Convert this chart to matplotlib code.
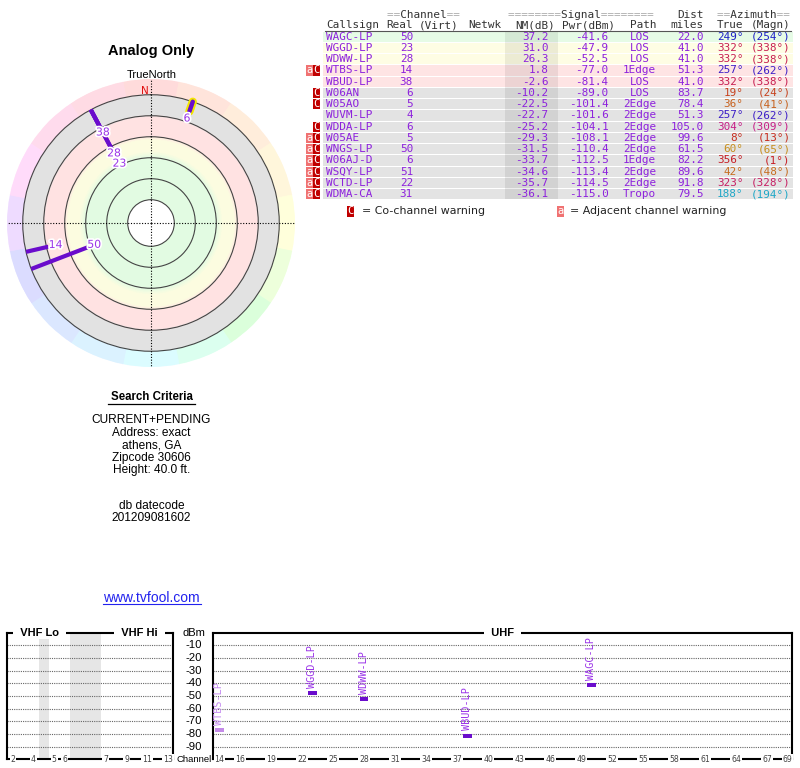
import colorsys
import numpy as np
import matplotlib
matplotlib.use("Agg")
import matplotlib.pyplot as plt
from matplotlib.colors import LinearSegmentedColormap
from matplotlib.patches import Rectangle
from matplotlib import patheffects as pe
from matplotlib.transforms import blended_transform_factory

# ---- station list ----
CALLSIGN = ["WAGC-LP", "WGGD-LP", "WDWW-LP", "WTBS-LP", "WBUD-LP", "W06AN", "W05AO",
            "WUVM-LP", "WDDA-LP", "W05AE", "WNGS-LP", "W06AJ-D", "WSQY-LP", "WCTD-LP", "WDMA-CA"]
REAL_CH = [50, 23, 28, 14, 38, 6, 5, 4, 6, 5, 50, 6, 51, 22, 31]
NM_DB = [37.2, 31.0, 26.3, 1.8, -2.6, -10.2, -22.5, -22.7, -25.2, -29.3, -31.5, -33.7, -34.6, -35.7, -36.1]
PWR_DBM = [-41.6, -47.9, -52.5, -77.0, -81.4, -89.0, -101.4, -101.6, -104.1, -108.1, -110.4,
           -112.5, -113.4, -114.5, -115.0]
PATH = ["LOS", "LOS", "LOS", "1Edge", "LOS", "LOS", "2Edge", "2Edge", "2Edge", "2Edge", "2Edge",
        "1Edge", "2Edge", "2Edge", "Tropo"]
DIST_MI = [22.0, 41.0, 41.0, 51.3, 41.0, 83.7, 78.4, 51.3, 105.0, 99.6, 61.5, 82.2, 89.6, 91.8, 79.5]
AZ_TRUE = [249, 332, 332, 257, 332, 19, 36, 257, 304, 8, 60, 356, 42, 323, 188]
AZ_MAGN = [254, 338, 338, 262, 338, 24, 41, 262, 309, 13, 65, 1, 48, 328, 194]
WARN = ["", "", "", "aC", "", "C", "C", "", "C", "aC", "aC", "aC", "aC", "aC", "aC"]

RING_NM = [80, 60, 40, 20, 0, -20]
DBM_TICKS = [-10, -20, -30, -40, -50, -60, -70, -80, -90]
VHF_TICKS = [2, 4, 5, 6, 7, 9, 11, 13]
UHF_TICKS = [14, 16, 19, 22, 25, 28, 31, 34, 37, 40, 43, 46, 49, 52, 55, 58, 61, 64, 67, 69]
CRITERIA = ["CURRENT+PENDING", "Address: exact", "athens, GA", "Zipcode 30606", "Height: 40.0 ft."]
DATECODE = ["db datecode", "201209081602"]

# VHF slots: channel order with gaps (None) for the 72-76 MHz and FM/air gaps
VHF_ORDER = [2, 3, 4, None, 5, 6, None, None, None, 7, 8, 9, 10, 11, 12, 13]

PURPLE = "#6a0ccc"
TXT_PURPLE = "#8d21dd"
LBL_PURPLE = "#9a33e8"
MONO = "DejaVu Sans Mono"
SANS = "Liberation Sans"


def az_hue(az):
    return np.interp(az, [0, 90, 135, 180, 250, 300, 360], [0, 60, 120, 185, 240, 320, 360]) / 360.0


def az_dark(az):
    return colorsys.hsv_to_rgb(az_hue(az), 0.85, 0.78)


def az_pastel(az):
    return colorsys.hsv_to_rgb(az_hue(az), 0.14, 1.0)


def vhf_x(ch):
    return VHF_ORDER.index(ch) + 0.6


fig = plt.figure(figsize=(8, 7.68), dpi=100)

# ---- overlay in pixel coords for the table and the loose text ----
ov = fig.add_axes([0, 0, 1, 1])
ov.set_xlim(0, 800); ov.set_ylim(768, 0); ov.axis("off"); ov.set_zorder(10)

ov.text(151, 51, "Analog Only", family=SANS, weight="bold", fontsize=10.5, ha="center", va="center")
ov.text(151.5, 74.5, "TrueNorth", family=SANS, fontsize=8, ha="center", va="center")
ov.text(144.5, 91, "N", family="DejaVu Sans", fontsize=7.5, color="#e01010", ha="center", va="center")

# table header
hdr = dict(family=MONO, fontsize=7.9, va="center")
for x, s, word in [(387, "==       ==", "  Channel  "), (508, "========      ========", "        Signal        "),
                   (717, "==       ==", "  Azimuth  ")]:
    ov.text(x, 15, s, color="#aaaaaa", ha="left", **hdr)
    ov.text(x, 15, word, color="#333333", ha="left", **hdr)
ov.text(703.5, 15, "Dist", color="#333333", ha="right", **hdr)
for x, s, ha in [(326, "Callsign", "left"), (413, "Real", "right"), (419, "(Virt)", "left"),
                 (468, "Netwk", "left"), (555, "NM(dB)", "right"), (615, "Pwr(dBm)", "right"),
                 (643, "Path", "center"), (703.5, "miles", "right"), (743.5, "True", "right"),
                 (790.5, "(Magn)", "right")]:
    ov.text(x, 25, s, color="#333333", ha=ha, **hdr)
ov.plot([325, 791], [31, 31], color="#555555", lw=0.8)


def row_bg(nm):
    if nm >= 35:
        return "#e6fbe6"
    if nm >= 15:
        return "#fefde4"
    if nm >= -5:
        return "#fee4e4"
    return "#e3e3e3"


def badge(x0, y0, w, h, ch, fc):
    ov.add_patch(Rectangle((x0, y0), w, h, fc=fc, ec="none"))
    ov.text(x0 + w / 2, y0 + h / 2, ch, color="white", family=MONO, fontsize=7.5, ha="center", va="center")


ROW_H = 11.25
TOP = 31.5
cell = dict(family=MONO, fontsize=7.9, va="center", color=TXT_PURPLE)
for i in range(len(CALLSIGN)):
    y0 = TOP + ROW_H * i
    yc = y0 + 5.1
    ov.add_patch(Rectangle((323, y0), 469.5, ROW_H - 1, fc=row_bg(NM_DB[i]), ec="none"))
    if "C" in WARN[i]:
        badge(313.4, y0, 6.8, ROW_H - 1, "C", "#c00000")
    if "a" in WARN[i]:
        badge(306, y0, 7.2, ROW_H - 1, "a", "#f07272")
    ov.text(326, yc, CALLSIGN[i], ha="left", **cell)
    ov.text(413, yc, str(REAL_CH[i]), ha="right", **cell)
    ov.text(548.5, yc, f"{NM_DB[i]:.1f}", ha="right", **cell)
    ov.text(608.5, yc, f"{PWR_DBM[i]:.1f}", ha="right", **cell)
    ov.text(639.5, yc, PATH[i], ha="center", **cell)
    ov.text(703.5, yc, f"{DIST_MI[i]:.1f}", ha="right", **cell)
    c = az_dark(AZ_TRUE[i])
    ov.text(743.5, yc, f"{AZ_TRUE[i]}°", ha="right", family=MONO, fontsize=7.9, va="center", color=c)
    ov.text(790.5, yc, f"({AZ_MAGN[i]}°)", ha="right", family=MONO, fontsize=7.9, va="center", color=c)
# darker NM(dB) column
ov.add_patch(Rectangle((505, TOP), 53, ROW_H * len(CALLSIGN) - 1, fc="black", alpha=0.07, ec="none"))

# warning legend
badge(347, 205.5, 7, 11, "C", "#c00000")
ov.text(361.5, 211, "= Co-channel warning", family="DejaVu Sans", fontsize=7.9, va="center", color="#222222")
badge(557, 205.5, 6.5, 11, "a", "#f07272")
ov.text(570.5, 211, "= Adjacent channel warning", family="DejaVu Sans", fontsize=7.9, va="center",
        color="#222222")

# search criteria block
ov.text(151.5, 397.3, "Search Criteria", family=SANS, weight="bold", fontsize=8.3, ha="center", va="center")
ov.plot([108.3, 195], [404.3, 404.3], color="black", lw=0.9)
for k, s in enumerate(CRITERIA):
    ov.text(151.5, 420 + 12.5 * k, s, family=SANS, fontsize=8.6, ha="center", va="center")
for k, s in enumerate(DATECODE):
    ov.text(151.5, 506 + 12.3 * k, s, family=SANS, fontsize=8.6, ha="center", va="center")
ov.text(151.8, 598.3, "www.tvfool.com", family=SANS, fontsize=10, ha="center", va="center", color="#2222ee")
ov.plot([102.7, 201], [603.8, 603.8], color="#2222ee", lw=0.8)

# ---- radar plot: radius = -NM, centre hole below NM 80 ----
pax = fig.add_axes([7 / 800, 1 - 367 / 768, 288 / 800, 288 / 768], projection="polar")
pax.set_theta_zero_location("N"); pax.set_theta_direction(-1)
pax.set_ylim(-102.2, 35)
pax.set_facecolor("white")

ZONE_NM = [80, 40, 34, 23, 19, 1.5, -1.5, -20]
ZONE_COL = ["#e2fbe2", "#e2fbe2", "#fcfce0", "#fcfce0", "#ffe2e2", "#ffe2e2", "#e2e2e2", "#e2e2e2"]
zone_cmap = LinearSegmentedColormap.from_list(
    "zones", [((80 - nm) / 100, c) for nm, c in zip(ZONE_NM, ZONE_COL)])
th = np.linspace(0, 2 * np.pi, 721)
rr = np.linspace(-RING_NM[0], -RING_NM[-1], 201)
C = np.tile(0.5 * (rr[:-1] + rr[1:])[:, None], (1, len(th) - 1))
pax.pcolormesh(th, rr, C, cmap=zone_cmap, vmin=-RING_NM[0], vmax=-RING_NM[-1], shading="flat", zorder=1)

az_c = np.arange(0, 360, 22.5)
cols = [az_pastel(a) for a in az_c]
pax.bar(np.radians(az_c), 15, width=np.radians(22.5), bottom=-RING_NM[-1], color=cols, edgecolor=cols,
        lw=0.5, zorder=1)

pax.set_yticks([-n for n in RING_NM])
pax.set_yticklabels([])
pax.set_xticks([])
pax.yaxis.grid(True, color="#444444", lw=0.8)
pax.spines["polar"].set_visible(False)
for t in [0, np.pi / 2, np.pi, 1.5 * np.pi]:
    pax.plot([t, t], [-102.2, 35], color="black", lw=0.8, ls=(0, (1, 1.5)), zorder=3)

placed = []
for i in np.argsort(NM_DB)[::-1]:
    if NM_DB[i] <= RING_NM[-1]:
        continue
    t = np.radians(AZ_TRUE[i])
    r_end = -NM_DB[i]
    if REAL_CH[i] <= 13:
        pax.plot([t, t], [-RING_NM[-1], r_end], color="#f2e600", lw=6, solid_capstyle="round", zorder=4)
        pax.plot([t, t], [-RING_NM[-1], r_end], color=PURPLE, lw=3.2, solid_capstyle="round", zorder=5)
    else:
        pax.plot([t, t], [-RING_NM[-1], r_end], color=PURPLE, lw=3, solid_capstyle="butt", zorder=4)
    r_lab = r_end - 7.1
    for a, r in placed:
        if abs(a - AZ_TRUE[i]) < 8 and abs(r_lab - r) < 11:
            r_lab = r + 11
    placed.append((AZ_TRUE[i], r_lab))
    pax.text(t, r_lab, str(REAL_CH[i]), color=LBL_PURPLE, family="DejaVu Sans", fontsize=7.8,
             ha="center", va="center", zorder=6,
             path_effects=[pe.withStroke(linewidth=2.5, foreground="white")])

# ---- spectrum boxes ----
def spectrum_box(ax, titles):
    ax.set_ylim(-100, 0)
    ax.set_yticks(DBM_TICKS)
    ax.set_yticklabels([])
    ax.set_xticks([])
    ax.tick_params(length=0)
    ax.yaxis.grid(True, color="#666666", lw=0.8, ls=(0, (1, 1)))
    for s in ax.spines.values():
        s.set_linewidth(1.5)
    tr = blended_transform_factory(ax.transAxes, ax.transData)
    for x, s in titles:
        ax.text(x, 0, s, transform=tr, family=SANS, weight="bold", fontsize=8, ha="center", va="center",
                clip_on=False, zorder=5, bbox=dict(boxstyle="square,pad=0.1", fc="white", ec="none"))


def channel_label(ax, x, s):
    ax.text(x, -100, s, family="DejaVu Sans", fontsize=5.6, color="#444444", ha="center", va="center",
            clip_on=False, zorder=5, bbox=dict(boxstyle="square,pad=0.12", fc="white", ec="none"))


vax = fig.add_axes([6.7 / 800, 8.7 / 768, 166.3 / 800, 126.6 / 768])
vax.set_xlim(0, len(VHF_ORDER) + 0.1)
for k, ch in enumerate(VHF_ORDER):
    if ch is None:
        vax.axvspan(k + 0.1, k + 1.1, color="#e6e6e6", lw=0, zorder=0)
spectrum_box(vax, [(0.197, "  VHF Lo  "), (0.80, "  VHF Hi  ")])
for ch in VHF_TICKS:
    channel_label(vax, vhf_x(ch), str(ch))

uax = fig.add_axes([213.3 / 800, 8.7 / 768, 578.4 / 800, 126.6 / 768])
uax.set_xlim(13.4, 69.39)
spectrum_box(uax, [(0.5, "  UHF  ")])
for ch in UHF_TICKS:
    channel_label(uax, ch, str(ch))

tr = blended_transform_factory(uax.transAxes, uax.transData)
xl = -(213.3 - 194) / 578.4
uax.text(xl, 0, "dBm", transform=tr, family=SANS, fontsize=8, ha="center", va="center", clip_on=False)
for v in DBM_TICKS:
    uax.text(xl, v, str(v), transform=tr, family=SANS, fontsize=8.2, ha="center", va="center", clip_on=False)
uax.text(xl, -100, "Channel", transform=tr, family=SANS, fontsize=6.8, ha="center", va="center", clip_on=False)

for i in range(len(CALLSIGN)):
    if NM_DB[i] < -5:
        continue
    faded = WARN[i] != ""
    ax = uax if REAL_CH[i] >= 14 else vax
    x = REAL_CH[i] if REAL_CH[i] >= 14 else vhf_x(REAL_CH[i])
    ax.bar(x, 3.0, bottom=PWR_DBM[i] - 1.5, width=0.82, color="#c48ae8" if faded else PURPLE, lw=0, zorder=4)
    ax.annotate(CALLSIGN[i], (x, PWR_DBM[i] + 1.5), xytext=(0, 2.5), textcoords="offset points",
                rotation=90, ha="center", va="bottom", family=MONO, fontsize=7.3,
                color="#c48af0" if faded else LBL_PURPLE, zorder=5)

fig.savefig("out.png", dpi=100)
